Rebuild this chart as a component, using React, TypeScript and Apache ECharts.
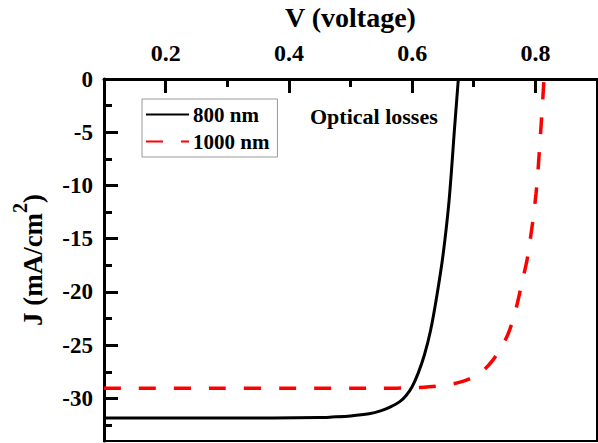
import React, { useEffect, useRef } from "react";
import * as echarts from "echarts";

const FONT = "'Liberation Serif', 'Times New Roman', serif";

// Black curve (800 nm)
const v800 = [0.1, 0.3, 0.45, 0.47, 0.5, 0.53, 0.55, 0.565, 0.58, 0.59, 0.6, 0.61, 0.62, 0.63, 0.64, 0.65, 0.66, 0.669, 0.675];
const j800 = [-31.85, -31.85, -31.8, -31.75, -31.65, -31.45, -31.15, -30.8, -30.3, -29.75, -28.9, -27.6, -25.9, -23.6, -20.4, -16.6, -11.4, -4.5, 0];

// Red dashed curve (1000 nm)
const v1000 = [0.1, 0.55, 0.6, 0.628, 0.661, 0.682, 0.699, 0.716, 0.731, 0.746, 0.758, 0.768, 0.778, 0.788, 0.801, 0.809, 0.814];
const j1000 = [-29.05, -29.05, -29.0, -28.9, -28.7, -28.4, -28.0, -27.35, -26.4, -25.1, -23.6, -21.7, -19.2, -16.5, -10.8, -4.6, 0];

const xMajor = [0.2, 0.4, 0.6, 0.8];
const xMinor = [0.3, 0.5, 0.7];
const yMajor = [0, -5, -10, -15, -20, -25, -30];
const yMinor = [-2.5, -7.5, -12.5, -17.5, -22.5, -27.5, -32.5];

const seriesNames = ["800 nm", "1000 nm"];

export default function App() {
  const ref = useRef<HTMLDivElement>(null);
  useEffect(() => {
    if (!ref.current) return;
    const chart = echarts.init(ref.current, undefined, { renderer: "svg" });
    const txt = { fontFamily: FONT, fontWeight: "bold" as const, color: "#000" };
    chart.setOption({
      animation: false,
      backgroundColor: "#fff",
      grid: {
        left: 104,
        right: 1,
        top: 79,
        bottom: 2,
        show: true,
        borderColor: "#000",
        borderWidth: 2,
        containLabel: false,
        outerBoundsMode: "none",
      },
      legend: {
        orient: "vertical",
        left: 142,
        top: 99,
        padding: [5, 8, 5, 3],
        itemGap: 6,
        itemWidth: 43,
        itemHeight: 14,
        borderColor: "#999",
        borderWidth: 1,
        itemStyle: { opacity: 0, borderWidth: 0 },
        textStyle: { ...txt, fontSize: 21, padding: [0, 0, 0, -1] },
        data: seriesNames,
      },
      xAxis: [
        {
          type: "value",
          position: "top",
          min: 0.1,
          max: 0.9,
          name: "V (voltage)",
          nameLocation: "middle",
          nameGap: 48,
          nameTextStyle: { ...txt, fontSize: 28 },
          axisLine: { show: true, lineStyle: { color: "#000", width: 3 } },
          axisTick: { show: true, inside: true, length: 14, lineStyle: { color: "#000", width: 3 }, customValues: xMajor },
          axisLabel: { show: true, margin: 14, ...txt, fontSize: 24, customValues: xMajor, formatter: (v: number) => v.toFixed(1) },
          splitLine: { show: false },
        },
        {
          type: "value",
          position: "top",
          min: 0.1,
          max: 0.9,
          axisLine: { show: false },
          axisTick: { show: true, inside: true, length: 8, lineStyle: { color: "#000", width: 3 }, customValues: xMinor },
          axisLabel: { show: false },
          splitLine: { show: false },
        },
      ],
      yAxis: [
        {
          type: "value",
          position: "left",
          min: -34,
          max: 0,
          name: "{a|J (mA/cm}{s|2}{a|)}",
          nameLocation: "middle",
          nameRotate: 90,
          nameGap: 58,
          nameTextStyle: {
            ...txt,
            fontSize: 27,
            rich: {
              a: { ...txt, fontSize: 27, lineHeight: 36, verticalAlign: "bottom" },
              s: { ...txt, fontSize: 20, lineHeight: 22, verticalAlign: "top" },
            },
          },
          axisLine: { show: true, lineStyle: { color: "#000", width: 3 } },
          axisTick: { show: true, inside: true, length: 14, lineStyle: { color: "#000", width: 3 }, customValues: yMajor },
          axisLabel: { show: true, margin: 11, ...txt, fontSize: 23, customValues: yMajor, formatter: (v: number) => String(v) },
          splitLine: { show: false },
        },
        {
          type: "value",
          position: "left",
          min: -34,
          max: 0,
          axisLine: { show: false },
          axisTick: { show: true, inside: true, length: 8, lineStyle: { color: "#000", width: 3 }, customValues: yMinor },
          axisLabel: { show: false },
          splitLine: { show: false },
        },
      ],
      graphic: [
        {
          type: "text",
          x: 310,
          y: 116,
          style: { text: "Optical losses", font: `bold 22px ${FONT}`, fill: "#000", verticalAlign: "middle", align: "left" },
        },
      ],
      series: [
        {
          name: seriesNames[0],
          type: "line",
          data: v800.map((v, i) => [v, j800[i]]),
          showSymbol: false,
          symbol: "none",
          smooth: 0.3,
          color: "#000",
          lineStyle: { color: "#000", width: 3 },
        },
        {
          name: seriesNames[1],
          type: "line",
          data: v1000.map((v, i) => [v, j1000[i]]),
          showSymbol: false,
          symbol: "none",
          smooth: 0.3,
          color: "#ff0000",
          lineStyle: { color: "#ff0000", width: 3.5, type: [17, 18] },
        },
      ],
    });
    return () => chart.dispose();
  }, []);
  return <div ref={ref} style={{ width: 598, height: 443, position: "absolute", left: 0, top: 0 }} />;
}
